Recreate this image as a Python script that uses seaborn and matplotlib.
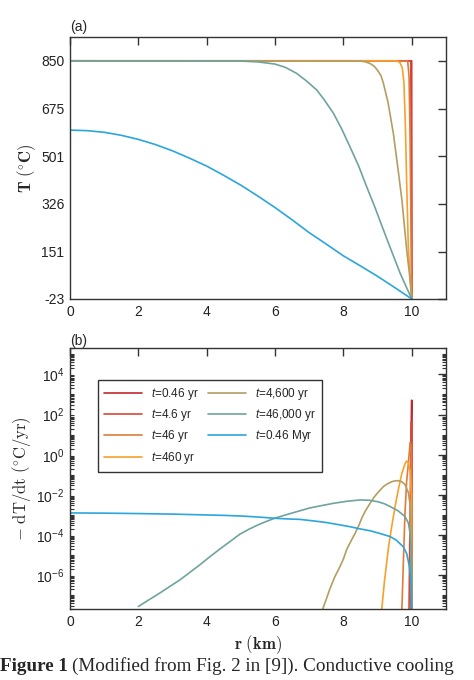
import numpy as np
import pandas as pd
import matplotlib
matplotlib.use("Agg")
import matplotlib.pyplot as plt
import matplotlib.ticker as mticker
import seaborn as sns

# curve labels and colours
labels = ["$t$=0.46 yr", "$t$=4.6 yr", "$t$=46 yr", "$t$=460 yr",
          "$t$=4,600 yr", "$t$=46,000 yr", "$t$=0.46 Myr"]
colors = ["#C1272D", "#DC4734", "#E07B3C", "#F6A12B",
          "#B39E62", "#6FA3A0", "#2BA6DC"]

# (a) temperature profiles, r in km, T in deg C
r_a = [
    [0, 9.995, 10.0],
    [0, 9.97, 9.985, 10.0],
    [0, 9.88, 9.92, 9.95, 9.97, 10.0],
    [0, 9.55, 9.65, 9.72, 9.77, 9.81, 9.85, 9.90, 9.95, 10.0],
    [0, 8.5, 8.65, 8.78, 8.9, 9.0, 9.1, 9.17, 9.3, 9.46, 9.6, 9.71, 9.85, 9.93, 10.0],
    [0, 5.0, 5.5, 6.0, 6.3, 6.63, 6.9, 7.22, 7.45, 7.71, 7.95, 8.19, 8.45, 8.68,
     8.9, 9.17, 9.4, 9.66, 9.85, 10.0],
    [0, 0.5, 1, 1.5, 2, 2.5, 3, 3.5, 4, 4.5, 5, 5.5, 6, 6.5, 7, 7.5, 8, 8.5, 9, 9.5, 10],
]
T_a = [
    [850, 850, -23],
    [850, 850, 450, -23],
    [850, 849, 790, 560, 300, -23],
    [850, 850, 844, 825, 770, 620, 402, 157, 60, -23],
    [850, 849, 846, 840, 830, 815, 795, 767, 700, 584, 450, 340, 157, 70, -23],
    [850, 849, 846, 838, 826, 804, 778, 743, 705, 657, 600, 535, 463, 388,
     320, 230, 155, 71, 18, -23],
    [596, 594, 588, 577, 562, 543, 520, 493, 464, 430, 394, 354, 312, 267, 220,
     178, 135, 98, 60, 19, -23],
]

# (b) cooling rate -dT/dt in deg C / yr
r_b = [
    [9.97, 9.98, 9.99, 9.997, 10.0],
    [9.91, 9.95, 9.975, 9.99, 10.0],
    [9.71, 9.76, 9.80, 9.85, 9.90, 9.95, 9.98, 10.0],
    [9.12, 9.2, 9.32, 9.42, 9.51, 9.61, 9.71, 9.80, 9.85, 9.90, 9.95, 9.99, 10.0],
    [7.39, 7.5, 7.6, 7.75, 7.90, 8.0, 8.1, 8.22, 8.34, 8.45, 8.55, 8.66, 8.78, 8.88,
     8.97, 9.07, 9.17, 9.27, 9.37, 9.46, 9.56, 9.63, 9.70, 9.80, 9.90, 9.96, 10.0],
    [2.0, 2.3, 2.6, 2.9, 3.22, 3.5, 3.8, 4.1, 4.4, 4.7, 4.97, 5.25, 5.5, 5.75, 6.0,
     6.5, 7.0, 7.35, 7.71, 8.1, 8.49, 8.75, 9.0, 9.2, 9.37, 9.6, 9.80, 9.90, 9.95,
     9.99, 10.0],
    [0, 1, 2, 3, 4, 4.5, 4.97, 5.5, 6.0, 6.4, 6.73, 7.1, 7.5, 7.85, 8.19, 8.5, 8.8,
     9.1, 9.37, 9.55, 9.75, 9.85, 9.93, 9.97, 9.99, 10.0],
]
rate_b = [
    [1e-9, 1e-3, 5e1, 5.2e2, 1e-9],
    [1e-9, 1e-3, 5.0, 4.5e1, 1e-9],
    [2e-8, 1e-5, 1.2e-3, 5e-2, 0.37, 4.0, 3.0, 1e-9],
    [2e-8, 5e-7, 2.6e-5, 3.2e-4, 2.6e-3, 2e-2, 0.12, 0.35, 0.49, 0.4, 0.16, 1e-2, 1e-9],
    [2e-8, 6.5e-8, 2e-7, 8.5e-7, 2.7e-6, 6.5e-6, 2e-5, 5e-5, 1.2e-4, 3e-4, 7.9e-4,
     1.8e-3, 3.8e-3, 7e-3, 1.1e-2, 1.7e-2, 2.6e-2, 3.4e-2, 4.2e-2, 4.8e-2, 5.1e-2,
     5e-2, 4.6e-2, 3.3e-2, 1.3e-2, 2.5e-3, 1e-9],
    [2.75e-8, 5.8e-8, 1.2e-7, 2.6e-7, 5.9e-7, 1.35e-6, 3.3e-6, 8.5e-6, 2.1e-5, 5e-5,
     1.1e-4, 2e-4, 3.2e-4, 4.8e-4, 7e-4, 1.25e-3, 2.2e-3, 2.9e-3, 3.8e-3, 4.8e-3,
     5.6e-3, 5.4e-3, 4.6e-3, 3.6e-3, 2.6e-3, 1.6e-3, 8.3e-4, 4e-4, 1.2e-4, 1e-5, 1e-9],
    [1.26e-3, 1.23e-3, 1.17e-3, 1.1e-3, 1.0e-3, 9.5e-4, 8.9e-4, 7.9e-4, 6.8e-4, 6.3e-4,
     6.0e-4, 5.1e-4, 4.2e-4, 3.3e-4, 2.6e-4, 2.0e-4, 1.6e-4, 1.15e-4, 8.3e-5, 5.5e-5,
     2.6e-5, 1.2e-5, 2.7e-6, 6e-7, 1e-7, 1e-9],
]

T_ticks = [-23, 151, 326, 501, 675, 850]
rate_ticks = [1e-6, 1e-4, 1e-2, 1e0, 1e2, 1e4]
rate_ticklabels = ["$10^{-6}$", "$10^{-4}$", "$10^{-2}$", "$10^{0}$", "$10^{2}$", "$10^{4}$"]

# long tables for seaborn
df_a = pd.concat([pd.DataFrame({"r": r, "T": T, "run": lab})
                  for r, T, lab in zip(r_a, T_a, labels)], ignore_index=True)
df_b = pd.concat([pd.DataFrame({"r": r, "rate": v, "run": lab})
                  for r, v, lab in zip(r_b, rate_b, labels)], ignore_index=True)

sns.set_style("white")
plt.rcParams["font.family"] = ["Liberation Sans", "DejaVu Sans"]
plt.rcParams["mathtext.fontset"] = "custom"
plt.rcParams["mathtext.rm"] = "Liberation Sans"
plt.rcParams["mathtext.it"] = "Liberation Sans:italic"
plt.rcParams["mathtext.bf"] = "Liberation Sans:bold"

pal = dict(zip(labels, colors))
spine_c = "#333333"

fig = plt.figure(figsize=(4.74, 6.8), dpi=100)
ax1 = fig.add_axes([0.1477, 0.5603, 0.7932, 0.3853])
ax2 = fig.add_axes([0.1477, 0.1040, 0.7932, 0.3838])

sns.lineplot(data=df_a, x="r", y="T", hue="run", palette=pal, estimator=None,
             sort=False, lw=1.2, legend=False, ax=ax1)
sns.lineplot(data=df_b, x="r", y="rate", hue="run", palette=pal, estimator=None,
             sort=False, lw=1.2, legend=False, ax=ax2)

for ax in (ax1, ax2):
    ax.set_xlim(0, 11)
    ax.set_xticks([0, 2, 4, 6, 8, 10])
    ax.tick_params(direction="in", top=True, right=True, length=6, width=1,
                   color=spine_c, labelsize=10, labelcolor="#222222", pad=4)
    for s in ax.spines.values():
        s.set_color(spine_c)
        s.set_linewidth(1.0)
    ax.set_xlabel("")
    ax.set_ylabel("")

ax1.set_ylim(-23, 937.3)
ax1.set_yticks(T_ticks)
ax1.set_yticklabels([str(v) for v in T_ticks])
ax1.set_ylabel(r"$\mathbf{T}\ (^{\circ}\mathbf{C})$", fontsize=12,
               math_fontfamily="cm", labelpad=2)
ax1.text(0.0, 1.012, "(a)", transform=ax1.transAxes, fontsize=10, va="bottom")

ax2.set_yscale("log")
ax2.set_ylim(2e-8, 2e5)
ax2.yaxis.set_major_locator(mticker.FixedLocator(rate_ticks))
ax2.yaxis.set_major_formatter(mticker.FixedFormatter(rate_ticklabels))
ax2.yaxis.set_minor_locator(mticker.LogLocator(base=10, subs=np.arange(1, 10), numticks=100))
ax2.yaxis.set_minor_formatter(mticker.NullFormatter())
ax2.tick_params(axis="y", which="minor", direction="in", left=True, right=True,
                length=3, width=0.8, color=spine_c)
ax2.set_ylabel(r"$-\ \mathrm{dT/dt}\ (^{\circ}\mathrm{C/yr})$", fontsize=12,
               math_fontfamily="cm", labelpad=2)
ax2.set_xlabel(r"$\mathbf{r\ (km)}$", fontsize=12, math_fontfamily="cm", labelpad=3)
ax2.text(0.0, 1.0, "(b)", transform=ax2.transAxes, fontsize=10, va="bottom")

leg = ax2.legend(ax2.get_lines()[:len(labels)], labels, ncol=2, loc="upper left",
                 bbox_to_anchor=(0.074, 0.879), fontsize=8.5, frameon=True,
                 fancybox=False, edgecolor=spine_c, framealpha=1, handlelength=3.2,
                 labelspacing=0.45, columnspacing=0.8, handletextpad=0.8,
                 borderpad=0.5, borderaxespad=0)
leg.get_frame().set_linewidth(1.0)

# caption under the figure
cap1 = fig.text(0.0, 0.02, "Figure 1", fontsize=13.8, family="Liberation Serif",
                fontweight="bold", va="center")
fig.canvas.draw()
bb = cap1.get_window_extent()
fig.text((bb.x1 + 4) / fig.bbox.width, 0.02,
         "(Modified from Fig. 2 in [9]). Conductive cooling",
         fontsize=13.8, family="Liberation Serif", va="center")

fig.savefig("out.png", dpi=100)
